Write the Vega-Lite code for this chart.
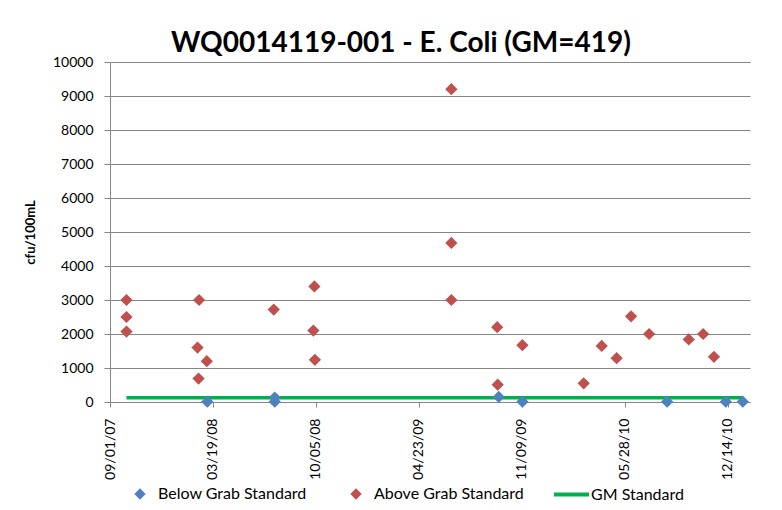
{
  "$schema": "https://vega.github.io/schema/vega-lite/v6.json",
  "autosize": "none",
  "width": 640,
  "height": 340,
  "padding": {"left": 110, "top": 62, "right": 32, "bottom": 108},
  "background": "white",
  "config": {
    "view": {"stroke": null},
    "font": "Lato",
    "axis": {"labelFont": "Lato", "titleFont": "Lato", "labelColor": "black", "titleColor": "black"}
  },
  "title": {
    "text": "WQ0014119-001 - E. Coli (GM=419)",
    "font": "Lato",
    "fontSize": 28,
    "fontWeight": "bold",
    "color": "black",
    "anchor": "middle",
    "dx": -29,
    "offset": -3
  },
  "datasets": {
    "samples": [
      {"date": "2007-10-03", "value": 3000, "series": "Above Grab Standard"},
      {"date": "2007-10-03", "value": 2500, "series": "Above Grab Standard"},
      {"date": "2007-10-03", "value": 2070, "series": "Above Grab Standard"},
      {"date": "2008-02-18", "value": 1600, "series": "Above Grab Standard"},
      {"date": "2008-02-20", "value": 690, "series": "Above Grab Standard"},
      {"date": "2008-02-21", "value": 3000, "series": "Above Grab Standard"},
      {"date": "2008-03-07", "value": 1200, "series": "Above Grab Standard"},
      {"date": "2008-07-15", "value": 2720, "series": "Above Grab Standard"},
      {"date": "2008-09-30", "value": 2100, "series": "Above Grab Standard"},
      {"date": "2008-10-02", "value": 3400, "series": "Above Grab Standard"},
      {"date": "2008-10-03", "value": 1240, "series": "Above Grab Standard"},
      {"date": "2009-06-25", "value": 9200, "series": "Above Grab Standard"},
      {"date": "2009-06-25", "value": 4680, "series": "Above Grab Standard"},
      {"date": "2009-06-25", "value": 3000, "series": "Above Grab Standard"},
      {"date": "2009-09-22", "value": 2200, "series": "Above Grab Standard"},
      {"date": "2009-09-23", "value": 510, "series": "Above Grab Standard"},
      {"date": "2009-11-10", "value": 1670, "series": "Above Grab Standard"},
      {"date": "2010-03-09", "value": 550, "series": "Above Grab Standard"},
      {"date": "2010-04-13", "value": 1650, "series": "Above Grab Standard"},
      {"date": "2010-05-12", "value": 1290, "series": "Above Grab Standard"},
      {"date": "2010-06-09", "value": 2520, "series": "Above Grab Standard"},
      {"date": "2010-07-14", "value": 2000, "series": "Above Grab Standard"},
      {"date": "2010-09-29", "value": 1840, "series": "Above Grab Standard"},
      {"date": "2010-10-27", "value": 2000, "series": "Above Grab Standard"},
      {"date": "2010-11-17", "value": 1330, "series": "Above Grab Standard"},
      {"date": "2008-03-08", "value": 10, "series": "Below Grab Standard"},
      {"date": "2008-07-17", "value": 130, "series": "Below Grab Standard"},
      {"date": "2008-07-17", "value": 10, "series": "Below Grab Standard"},
      {"date": "2009-09-25", "value": 150, "series": "Below Grab Standard"},
      {"date": "2009-11-10", "value": 10, "series": "Below Grab Standard"},
      {"date": "2010-08-18", "value": 10, "series": "Below Grab Standard"},
      {"date": "2010-12-10", "value": 10, "series": "Below Grab Standard"},
      {"date": "2011-01-12", "value": 10, "series": "Below Grab Standard"}
    ],
    "gm": [
      {"date": "2007-10-03", "value": 126, "series": "GM Standard"},
      {"date": "2011-01-12", "value": 126, "series": "GM Standard"}
    ]
  },
  "encoding": {
    "x": {
      "field": "date",
      "type": "temporal",
      "scale": {
        "type": "utc",
        "domain": [
          {"year": 2007, "month": 9, "date": 1, "utc": true},
          {"year": 2011, "month": 1, "date": 26, "utc": true}
        ]
      },
      "axis": {
        "title": null,
        "grid": false,
        "format": "%m/%d/%y",
        "values": [
          {"year": 2007, "month": 9, "date": 1, "utc": true},
          {"year": 2008, "month": 3, "date": 19, "utc": true},
          {"year": 2008, "month": 10, "date": 5, "utc": true},
          {"year": 2009, "month": 4, "date": 23, "utc": true},
          {"year": 2009, "month": 11, "date": 9, "utc": true},
          {"year": 2010, "month": 5, "date": 28, "utc": true},
          {"year": 2010, "month": 12, "date": 14, "utc": true}
        ],
        "labelAngle": -90,
        "labelFontSize": 14,
        "labelPadding": 11,
        "tickSize": 5,
        "tickColor": "#868686",
        "domainColor": "#868686",
        "labelOverlap": false
      }
    },
    "y": {
      "field": "value",
      "type": "quantitative",
      "scale": {"domain": [0, 10000], "nice": false},
      "axis": {
        "title": "cfu/100mL",
        "titleFontSize": 13,
        "titleFontWeight": "bold",
        "titleX": -80,
        "titleY": 170,
        "titleAlign": "center",
        "titleBaseline": "middle",
        "values": [0, 1000, 2000, 3000, 4000, 5000, 6000, 7000, 8000, 9000, 10000],
        "format": "d",
        "labelFontSize": 14,
        "labelPadding": 11,
        "tickSize": 6,
        "tickColor": "#868686",
        "domainColor": "#868686",
        "gridColor": "#868686",
        "gridWidth": 1
      }
    }
  },
  "layer": [
    {
      "data": {"name": "gm"},
      "mark": {"type": "line", "strokeWidth": 3.5},
      "encoding": {
        "stroke": {
          "field": "series",
          "type": "nominal",
          "scale": {"domain": ["GM Standard"], "range": ["#00B050"]},
          "legend": {
            "title": null,
            "orient": "none",
            "legendX": 442,
            "legendY": 413,
            "symbolType": "stroke",
            "symbolSize": 1225,
            "symbolStrokeWidth": 4,
            "labelFontSize": 16,
            "labelFont": "Lato",
            "labelColor": "black",
            "labelOffset": 0
          }
        }
      }
    },
    {
      "data": {"name": "samples"},
      "mark": {"type": "point", "shape": "diamond", "filled": true, "size": 150, "opacity": 1},
      "encoding": {
        "color": {
          "field": "series",
          "type": "nominal",
          "scale": {"domain": ["Below Grab Standard", "Above Grab Standard"], "range": ["#4F81BD", "#C0504D"]},
          "legend": {
            "title": null,
            "orient": "none",
            "direction": "horizontal",
            "legendX": 22,
            "legendY": 424,
            "symbolType": "diamond",
            "symbolSize": 130,
            "symbolOpacity": 1,
            "labelFontSize": 16,
            "labelFont": "Lato",
            "labelColor": "black",
            "labelOffset": 10,
            "columnPadding": 41
          }
        }
      }
    }
  ]
}
